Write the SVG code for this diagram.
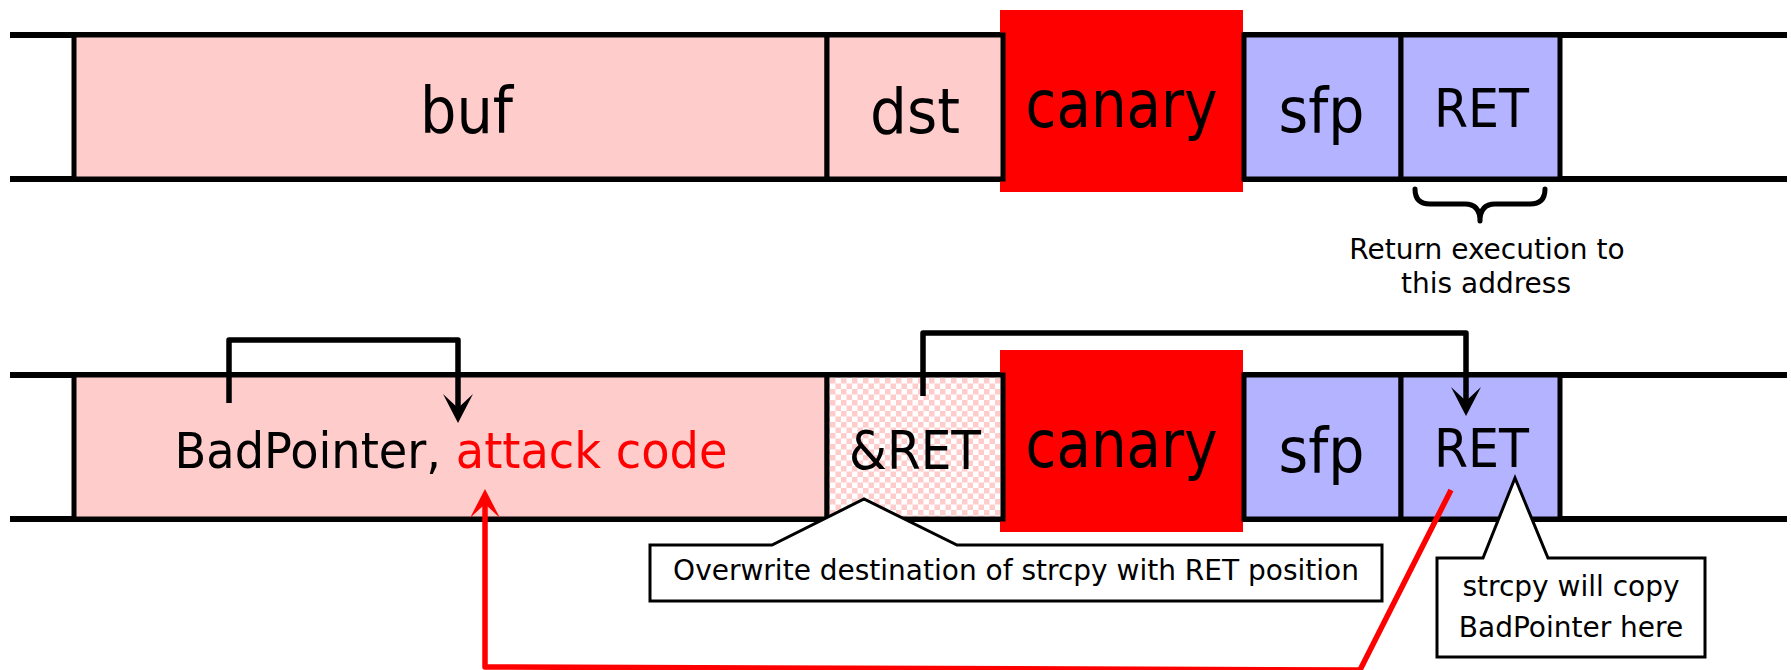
<svg xmlns="http://www.w3.org/2000/svg" width="1791" height="670" viewBox="0 0 1791 670">
  <style>
    .rail { stroke: #000; stroke-width: 6; fill: none; }
    .cell { stroke: #000; stroke-width: 5; }
    .local { fill: #FFCCCC; }
    .frame { fill: #B3B3FF; }
    .canary { fill: #FF0000; }
    .big { font-family: "DejaVu Sans Condensed", "DejaVu Sans", sans-serif; fill: #000; text-anchor: middle; }
    .note { font-family: "DejaVu Sans", "Verdana", sans-serif; font-size: 28px; fill: #000; text-anchor: middle; }
    .callout { fill: #fff; stroke: #000; stroke-width: 3; }
    .link { fill: none; stroke: #000; stroke-width: 5.5; stroke-linejoin: round; }
    .link.red { stroke: #FF0000; }
    .brace { fill: none; stroke: #000; stroke-width: 5; stroke-linecap: round; stroke-linejoin: round; }
  </style>
  <defs>
    <!-- pink/white checkerboard for the overwritten dst slot -->
    <pattern id="checker" width="11" height="11" patternUnits="userSpaceOnUse" x="830" y="378">
      <rect width="11" height="11" fill="#fff"/>
      <rect width="5.5" height="5.5" fill="#FFCCCC"/>
      <rect x="5.5" y="5.5" width="5.5" height="5.5" fill="#FFCCCC"/>
    </pattern>
    <marker id="head" markerUnits="userSpaceOnUse" markerWidth="34" markerHeight="32" refX="0" refY="0" orient="auto" overflow="visible">
      <path d="M12,0 L-17,-15 L-3,0 L-17,15 Z" fill="#000"/>
    </marker>
    <marker id="headRed" markerUnits="userSpaceOnUse" markerWidth="34" markerHeight="32" refX="0" refY="0" orient="auto" overflow="visible">
      <path d="M12,0 L-17,-15 L-3,0 L-17,15 Z" fill="#FF0000"/>
    </marker>
  </defs>

  <!-- ===== normal stack frame ===== -->
  <g id="stack-top">
    <line class="rail" x1="10" y1="35" x2="1787" y2="35"/>
    <line class="rail" x1="10" y1="179" x2="1787" y2="179"/>
  </g>
  <g id="canary-top">
    <rect class="canary" x="1000" y="10" width="243" height="182"/>
    <text class="big" x="1121.5" y="127" font-size="66" textLength="192" lengthAdjust="spacingAndGlyphs">canary</text>
  </g>
  <g id="buf-top">
    <rect class="cell local" x="74" y="35" width="753" height="144"/>
    <text class="big" x="466.5" y="133" font-size="64" textLength="93" lengthAdjust="spacingAndGlyphs">buf</text>
  </g>
  <g id="dst-top">
    <rect class="cell local" x="827" y="35" width="176" height="144"/>
    <text class="big" x="915" y="133" font-size="62" textLength="90" lengthAdjust="spacingAndGlyphs">dst</text>
  </g>
  <g id="sfp-top">
    <rect class="cell frame" x="1244" y="35" width="157" height="144"/>
    <text class="big" x="1321.5" y="132" font-size="63" textLength="86" lengthAdjust="spacingAndGlyphs">sfp</text>
  </g>
  <g id="ret-top">
    <rect class="cell frame" x="1401" y="35" width="159" height="144"/>
    <text class="big" x="1481.5" y="127" font-size="54" textLength="95" lengthAdjust="spacingAndGlyphs">RET</text>
  </g>
  <g id="ret-note">
    <path class="brace" d="M1415,189 Q1415,204 1430,204 H1465 Q1480,204 1480,221 Q1480,204 1495,204 H1530 Q1545,204 1545,189"/>
    <text class="note" x="1487" y="259">Return execution to</text>
    <text class="note" x="1486" y="293">this address</text>
  </g>

  <!-- ===== attacked stack frame ===== -->
  <g id="stack-bottom">
    <line class="rail" x1="10" y1="375" x2="1787" y2="375"/>
    <line class="rail" x1="10" y1="519" x2="1787" y2="519"/>
  </g>
  <g id="canary-bottom">
    <rect class="canary" x="1000" y="350" width="243" height="182"/>
    <text class="big" x="1121.5" y="467" font-size="66" textLength="192" lengthAdjust="spacingAndGlyphs">canary</text>
  </g>
  <g id="buf-bottom">
    <rect class="cell local" x="74" y="375" width="753" height="144"/>
    <text class="big" x="451" y="468" font-size="50" textLength="553" lengthAdjust="spacingAndGlyphs">BadPointer, <tspan fill="#FF0000">attack code</tspan></text>
  </g>
  <g id="dst-bottom">
    <rect class="cell" x="827" y="375" width="176" height="144" fill="url(#checker)"/>
    <text class="big" x="915" y="469" font-size="54" textLength="132" lengthAdjust="spacingAndGlyphs">&amp;RET</text>
  </g>
  <g id="sfp-bottom">
    <rect class="cell frame" x="1244" y="375" width="157" height="144"/>
    <text class="big" x="1321.5" y="472" font-size="63" textLength="86" lengthAdjust="spacingAndGlyphs">sfp</text>
  </g>
  <g id="ret-bottom">
    <rect class="cell frame" x="1401" y="375" width="159" height="144"/>
    <text class="big" x="1481.5" y="467" font-size="54" textLength="95" lengthAdjust="spacingAndGlyphs">RET</text>
  </g>

  <!-- callouts -->
  <g id="callout-overwrite">
    <path class="callout" d="M650,545 H772 L864,499 L957,545 H1382 V601 H650 Z"/>
    <text class="note" x="1016" y="580">Overwrite destination of strcpy with RET position</text>
  </g>
  <g id="callout-copy">
    <path class="callout" d="M1437,558 H1483 L1515,478 L1548,558 H1705 V657 H1437 Z"/>
    <text class="note" x="1571" y="596">strcpy will copy</text>
    <text class="note" x="1571" y="637">BadPointer here</text>
  </g>

  <!-- connectors -->
  <g id="connectors">
    <path class="link" d="M229,403 V340 H458 V411" marker-end="url(#head)"/>
    <path class="link" d="M923,396 V333 H1466 V404" marker-end="url(#head)"/>
    <path class="link red" d="M1451,490 L1360,670 L485,667 L485,501" marker-end="url(#headRed)"/>
  </g>
</svg>
